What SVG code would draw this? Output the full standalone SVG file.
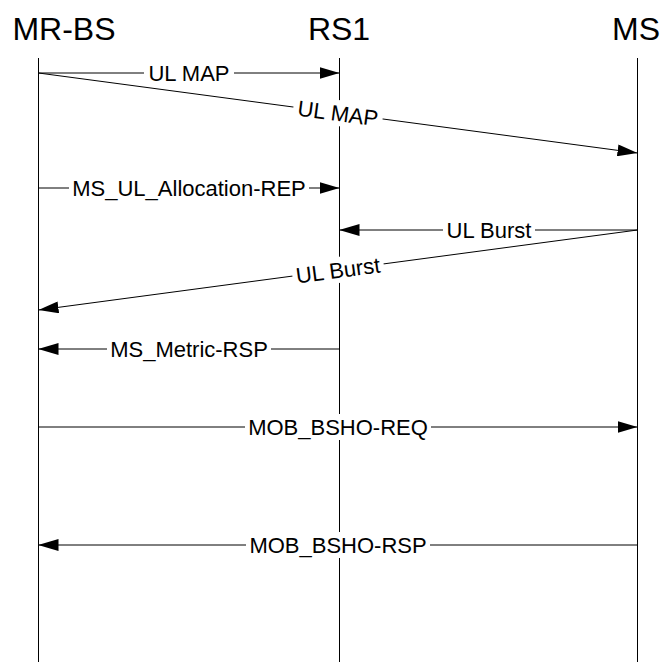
<svg xmlns="http://www.w3.org/2000/svg" width="664" height="662" viewBox="0 0 664 662">
<style>
.hdr{font-family:"Liberation Sans",Arial,sans-serif;font-size:32px;fill:#000;text-anchor:middle}
.lbl{font-family:"Liberation Sans",Arial,sans-serif;font-size:22px;fill:#000;text-anchor:middle}
.life{stroke:#000;stroke-width:1;fill:none}
.msg{stroke:#000;stroke-width:1;fill:none;marker-end:url(#ah)}
.bg{fill:#fff;stroke:none}
</style>
<defs>
<marker id="ah" markerUnits="userSpaceOnUse" markerWidth="20" markerHeight="12" refX="20" refY="6" orient="auto">
<path d="M0,0 L20,6 L0,12 z" fill="#000"/>
</marker>
</defs>
<rect width="664" height="662" fill="#fff"/>
<g id="node-mrbs">
<text class="hdr" x="64" y="40">MR-BS</text>
<line class="life" x1="38.5" y1="58" x2="38.5" y2="662"/>
</g>
<g id="node-rs1">
<text class="hdr" x="339" y="40">RS1</text>
<line class="life" x1="339.5" y1="58" x2="339.5" y2="662"/>
</g>
<g id="node-ms">
<text class="hdr" x="636" y="40">MS</text>
<line class="life" x1="637.5" y1="58" x2="637.5" y2="662"/>
</g>
<g id="connectors">
<line class="msg" x1="38.5" y1="73" x2="339.5" y2="73"/>
<line class="msg" x1="38.5" y1="73" x2="637.5" y2="153"/>
<line class="msg" x1="38.5" y1="188" x2="339.5" y2="188"/>
<line class="msg" x1="637.5" y1="230" x2="339.5" y2="230"/>
<line class="msg" x1="637.5" y1="230" x2="38.5" y2="310"/>
<line class="msg" x1="339.5" y1="349" x2="38.5" y2="349"/>
<line class="msg" x1="38.5" y1="427" x2="637.5" y2="427"/>
<line class="msg" x1="637.5" y1="545" x2="38.5" y2="545"/>

<g transform="translate(189,73)"><rect class="bg" x="-45" y="-12" width="90" height="24"/><text class="lbl" y="8">UL MAP</text></g>
<g transform="translate(338,113) rotate(7.61)"><rect class="bg" x="-45" y="-13" width="90" height="26"/><text class="lbl" y="8">UL MAP</text></g>
<g transform="translate(189,188)"><rect class="bg" x="-120" y="-12" width="240" height="24"/><text class="lbl" y="8">MS_UL_Allocation-REP</text></g>
<g transform="translate(489,230)"><rect class="bg" x="-46" y="-12" width="92" height="24"/><text class="lbl" y="8">UL Burst</text></g>
<g transform="translate(338,270) rotate(-7.61)"><rect class="bg" x="-46" y="-13" width="92" height="26"/><text class="lbl" y="8">UL Burst</text></g>
<g transform="translate(189,349)"><rect class="bg" x="-82" y="-12" width="164" height="24"/><text class="lbl" y="8">MS_Metric-RSP</text></g>
<g transform="translate(338,427)"><rect class="bg" x="-93" y="-13" width="186" height="26"/><text class="lbl" y="8">MOB_BSHO-REQ</text></g>
<g transform="translate(338,545)"><rect class="bg" x="-92" y="-13" width="184" height="26"/><text class="lbl" y="8">MOB_BSHO-RSP</text></g>
</g>
</svg>
